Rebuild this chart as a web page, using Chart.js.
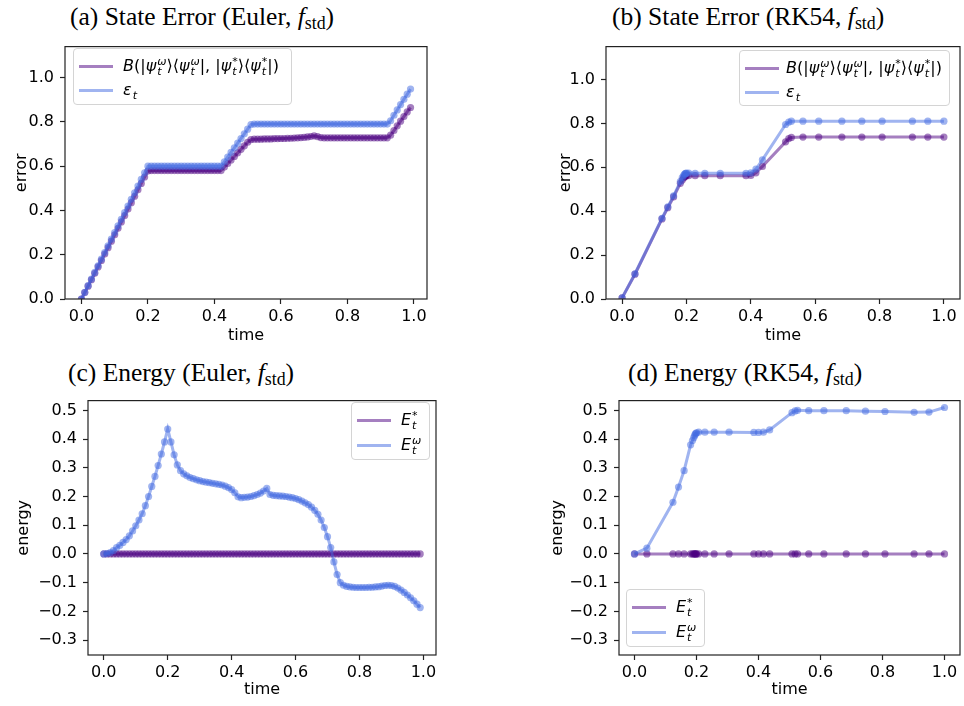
<!DOCTYPE html>
<html>
<head>
<meta charset="utf-8">
<script src="https://cdn.jsdelivr.net/npm/chart.js@4.4.1/dist/chart.umd.min.js"></script>
<style>
  html, body { margin: 0; padding: 0; background: #fff; }
  body { width: 964px; height: 706px; position: relative; overflow: hidden; }
  canvas { position: absolute; }
  .title { position: absolute; font-family: "Liberation Serif", "Times New Roman", serif; font-size: 25.5px; line-height: 1; white-space: nowrap; color: #000; }
  .title sub { font-size: 70%; vertical-align: -0.25em; line-height: 0; }
  .legend { position: absolute; border: 1px solid #d4d4d4; border-radius: 4px; background: rgba(255,255,255,0.8); font-family: "DejaVu Sans"; font-size: 16px; color: #000; box-sizing: border-box; }
  .swatch { position: absolute; height: 3px; }
  .lbl { position: absolute; white-space: nowrap; line-height: 24px; }
  .ss { display: inline-flex; flex-direction: column; font-size: 11px; line-height: 10px; vertical-align: 6px; margin-left: 1px; }
  .ss > * { display: block; }
  .sub { font-size: 11px; vertical-align: -4px; margin-left: 1px; }
</style>
</head>
<body>
<div class="title" style="left:70px;top:4px">(a) State Error (Euler, <i>f</i><sub>std</sub>)</div>
<div class="title" style="left:612px;top:4px">(b) State Error (RK54, <i>f</i><sub>std</sub>)</div>
<div class="title" style="left:68px;top:360px">(c) Energy (Euler, <i>f</i><sub>std</sub>)</div>
<div class="title" style="left:628px;top:360px">(d) Energy (RK54, <i>f</i><sub>std</sub>)</div>

<canvas id="chartA"></canvas>
<canvas id="chartB"></canvas>
<canvas id="chartC"></canvas>
<canvas id="chartD"></canvas>

<script>
// time grids
const tEuler = [
  0.00, 0.01, 0.02, 0.03, 0.04, 0.05, 0.06, 0.07, 0.08, 0.09,
  0.10, 0.11, 0.12, 0.13, 0.14, 0.15, 0.16, 0.17, 0.18, 0.19,
  0.20, 0.21, 0.22, 0.23, 0.24, 0.25, 0.26, 0.27, 0.28, 0.29,
  0.30, 0.31, 0.32, 0.33, 0.34, 0.35, 0.36, 0.37, 0.38, 0.39,
  0.40, 0.41, 0.42, 0.43, 0.44, 0.45, 0.46, 0.47, 0.48, 0.49,
  0.50, 0.51, 0.52, 0.53, 0.54, 0.55, 0.56, 0.57, 0.58, 0.59,
  0.60, 0.61, 0.62, 0.63, 0.64, 0.65, 0.66, 0.67, 0.68, 0.69,
  0.70, 0.71, 0.72, 0.73, 0.74, 0.75, 0.76, 0.77, 0.78, 0.79,
  0.80, 0.81, 0.82, 0.83, 0.84, 0.85, 0.86, 0.87, 0.88, 0.89,
  0.90, 0.91, 0.92, 0.93, 0.94, 0.95, 0.96, 0.97, 0.98, 0.99
];
const tRK = [0, 0.04, 0.124, 0.142, 0.16, 0.181, 0.187, 0.191, 0.194, 0.196, 0.198,
  0.2, 0.207, 0.227, 0.257, 0.305, 0.385, 0.4, 0.416, 0.436, 0.508, 0.518, 0.526,
  0.562, 0.611, 0.683, 0.745, 0.808, 0.902, 0.95, 1.0];

// (a) state error, Euler
const errBEuler = [
  0, 0.029, 0.058, 0.087, 0.116, 0.145, 0.174, 0.203, 0.232, 0.261,
  0.29, 0.319, 0.348, 0.377, 0.406, 0.435, 0.464, 0.493, 0.522, 0.551,
  0.578, 0.58, 0.58, 0.58, 0.58, 0.58, 0.58, 0.58, 0.58, 0.58,
  0.58, 0.58, 0.58, 0.58, 0.58, 0.58, 0.58, 0.58, 0.58, 0.58,
  0.58, 0.58, 0.58, 0.596, 0.612, 0.628, 0.644, 0.66, 0.676, 0.692,
  0.708, 0.72, 0.722, 0.722, 0.722, 0.723, 0.723, 0.723, 0.724, 0.724,
  0.725, 0.725, 0.726, 0.726, 0.727, 0.728, 0.729, 0.73, 0.732, 0.734,
  0.737, 0.733, 0.729, 0.728, 0.728, 0.728, 0.728, 0.728, 0.728, 0.728,
  0.728, 0.728, 0.728, 0.728, 0.728, 0.728, 0.728, 0.728, 0.728, 0.728,
  0.728, 0.728, 0.728, 0.74, 0.761, 0.782, 0.803, 0.824, 0.845, 0.865
];
const errEpsEuler = [
  0, 0.03, 0.06, 0.09, 0.12, 0.15, 0.18, 0.21, 0.24, 0.27,
  0.30, 0.33, 0.36, 0.39, 0.42, 0.45, 0.48, 0.51, 0.54, 0.57,
  0.60, 0.6, 0.6, 0.6, 0.6, 0.6, 0.6, 0.6, 0.6, 0.6,
  0.6, 0.6, 0.6, 0.6, 0.6, 0.6, 0.6, 0.6, 0.6, 0.6,
  0.6, 0.6, 0.6, 0.62, 0.641, 0.662, 0.683, 0.704, 0.725, 0.746,
  0.767, 0.788, 0.79, 0.79, 0.79, 0.79, 0.79, 0.79, 0.79, 0.79,
  0.79, 0.79, 0.79, 0.79, 0.79, 0.79, 0.79, 0.79, 0.79, 0.79,
  0.79, 0.79, 0.79, 0.79, 0.79, 0.79, 0.79, 0.79, 0.79, 0.79,
  0.79, 0.79, 0.79, 0.79, 0.79, 0.79, 0.79, 0.79, 0.79, 0.79,
  0.79, 0.79, 0.79, 0.805, 0.83, 0.854, 0.878, 0.902, 0.925, 0.948
];

// (b) state error, RK54
const errBRK = [0.005, 0.113, 0.365, 0.416, 0.465, 0.527, 0.542, 0.551, 0.556, 0.559, 0.561,
  0.562, 0.562, 0.562, 0.562, 0.562, 0.562, 0.563, 0.575, 0.604, 0.716, 0.731, 0.736,
  0.738, 0.738, 0.738, 0.738, 0.738, 0.738, 0.738, 0.738];
const errEpsRK = [0.005, 0.115, 0.368, 0.42, 0.47, 0.535, 0.553, 0.562, 0.568, 0.571, 0.573,
  0.574, 0.574, 0.573, 0.573, 0.573, 0.573, 0.575, 0.592, 0.634, 0.795, 0.806, 0.81,
  0.81, 0.81, 0.81, 0.81, 0.81, 0.81, 0.81, 0.81];

// (c) energy, Euler
const energyStarEuler = [
  0, 0, 0, 0, 0, 0, 0, 0, 0, 0,
  0, 0, 0, 0, 0, 0, 0, 0, 0, 0,
  0, 0, 0, 0, 0, 0, 0, 0, 0, 0,
  0, 0, 0, 0, 0, 0, 0, 0, 0, 0,
  0, 0, 0, 0, 0, 0, 0, 0, 0, 0,
  0, 0, 0, 0, 0, 0, 0, 0, 0, 0,
  0, 0, 0, 0, 0, 0, 0, 0, 0, 0,
  0, 0, 0, 0, 0, 0, 0, 0, 0, 0,
  0, 0, 0, 0, 0, 0, 0, 0, 0, 0,
  0, 0, 0, 0, 0, 0, 0, 0, 0, 0
];
const energyOmegaEuler = [
  0, 0.001, 0.005, 0.012, 0.022, 0.03, 0.04, 0.05, 0.063, 0.08,
  0.098, 0.118, 0.14, 0.168, 0.2, 0.235, 0.27, 0.308, 0.348, 0.39,
  0.435, 0.39, 0.345, 0.31, 0.29, 0.279, 0.272, 0.266, 0.262, 0.258,
  0.255, 0.252, 0.25, 0.248, 0.246, 0.244, 0.242, 0.24, 0.236, 0.231,
  0.224, 0.213, 0.199, 0.196, 0.197, 0.198, 0.2, 0.203, 0.207, 0.212,
  0.219, 0.228, 0.207, 0.204, 0.203, 0.202, 0.201, 0.2, 0.198, 0.196,
  0.193, 0.189, 0.184, 0.178, 0.172, 0.163, 0.152, 0.138, 0.118, 0.092,
  0.06, 0.022, -0.028, -0.072, -0.1, -0.109, -0.113, -0.115, -0.116, -0.117,
  -0.117, -0.117, -0.117, -0.116, -0.116, -0.115, -0.114, -0.112, -0.11, -0.109,
  -0.11, -0.113, -0.119, -0.126, -0.134, -0.143, -0.153, -0.163, -0.175, -0.187
];

// (d) energy, RK54
const energyStarRK = [0, 0, 0, 0, 0, 0, 0, 0, 0, 0, 0, 0, 0, 0, 0, 0,
  0, 0, 0, 0, 0, 0, 0, 0, 0, 0, 0, 0, 0, 0, 0];
const energyOmegaRK = [0, 0.02, 0.18, 0.233, 0.29, 0.38, 0.395, 0.405, 0.412, 0.417, 0.42,
  0.422, 0.424, 0.424, 0.424, 0.424, 0.423, 0.423, 0.424, 0.432, 0.492, 0.498, 0.5,
  0.499, 0.499, 0.499, 0.497, 0.496, 0.493, 0.494, 0.51];

// ticks
const timeTicks = [0, 0.2, 0.4, 0.6, 0.8, 1.0];
const errorTicks = [0, 0.2, 0.4, 0.6, 0.8, 1.0];
const energyTicks = [-0.3, -0.2, -0.1, 0, 0.1, 0.2, 0.3, 0.4, 0.5];

const PURPLE = 'rgba(75,0,130,0.5)';
const BLUE = 'rgba(65,105,225,0.5)';

const labelB = '<i>B</i>(|<i>ψ</i><span class="ss"><i>ω</i><i>t</i></span>⟩⟨<i>ψ</i><span class="ss"><i>ω</i><i>t</i></span>|, |<i>ψ</i><span class="ss"><span>*</span><i>t</i></span>⟩⟨<i>ψ</i><span class="ss"><span>*</span><i>t</i></span>|)';
const labelEps = '<i>ε</i><i class="sub">t</i>';
const labelEStar = '<i>E</i><span class="ss"><span>*</span><i>t</i></span>';
const labelEOmega = '<i>E</i><span class="ss"><i>ω</i><i>t</i></span>';

Chart.defaults.font.family = 'DejaVu Sans';
const FONT = { family: 'DejaVu Sans', size: 16 };

const fmt = v => (v < -1e-9 ? '\u2212' : '') + Math.abs(v).toFixed(1);

const framePlugin = {
  id: 'frame',
  afterDatasetsDraw(chart) {
    const { ctx, chartArea: a } = chart;
    ctx.save();
    ctx.strokeStyle = '#222';
    ctx.lineWidth = 1.2;
    ctx.strokeRect(a.left, a.top, a.right - a.left, a.bottom - a.top);
    ctx.restore();
  }
};

function drawPanel(p) {
  const cv = document.getElementById(p.id);
  cv.width = p.w; cv.height = p.h;
  cv.style.left = p.left + 'px';
  cv.style.top = p.top + 'px';
  cv.style.width = p.w + 'px';
  cv.style.height = p.h + 'px';

  const n = p.series.length;
  new Chart(cv, {
    type: 'line',
    data: {
      datasets: p.series.map((s, i) => ({
        label: s.name,
        data: s.t.map((x, j) => ({ x: x, y: s.v[j] })),
        borderColor: s.color,
        backgroundColor: s.color,
        pointBackgroundColor: s.color,
        pointBorderWidth: 0,
        pointRadius: 3.6,
        borderWidth: 3,
        tension: 0,
        order: n - 1 - i
      }))
    },
    options: {
      responsive: false,
      animation: false,
      devicePixelRatio: 1,
      layout: { padding: { top: 12, right: p.padRight, bottom: 0, left: 0 } },
      plugins: { legend: { display: false }, tooltip: { enabled: false } },
      scales: {
        x: {
          type: 'linear', min: p.xMin, max: p.xMax,
          afterBuildTicks: ax => { ax.ticks = timeTicks.map(v => ({ value: v })); },
          afterFit: ax => { ax.height = p.xAxisH; },
          ticks: { font: FONT, color: '#000', padding: 3, maxRotation: 0, autoSkip: false, callback: v => fmt(v) },
          grid: { drawOnChartArea: false, drawTicks: true, tickLength: 5, tickColor: '#222', tickWidth: 1.2 },
          border: { display: false },
          title: { display: true, text: 'time', font: FONT, color: '#000', padding: { top: 0, bottom: p.xTitlePad } }
        },
        y: {
          type: 'linear', min: p.yMin, max: p.yMax,
          afterBuildTicks: ax => { ax.ticks = p.yTicks.map(v => ({ value: v })); },
          afterFit: ax => { ax.width = p.yAxisW; },
          ticks: { font: FONT, color: '#000', padding: 6, autoSkip: false, callback: v => fmt(v) },
          grid: { drawOnChartArea: false, drawTicks: true, tickLength: 5, tickColor: '#222', tickWidth: 1.2 },
          border: { display: false },
          title: { display: true, text: p.yLabel, font: FONT, color: '#000', padding: { top: p.yTitlePad, bottom: 0 } }
        }
      }
    },
    plugins: [framePlugin]
  });

  // legend box
  const lg = document.createElement('div');
  lg.className = 'legend';
  Object.assign(lg.style, { left: p.legend.left + 'px', top: p.legend.top + 'px', width: p.legend.w + 'px', height: p.legend.h + 'px' });
  p.series.forEach((s, i) => {
    const cy = p.legend.rows[i];
    const sw = document.createElement('div');
    sw.className = 'swatch';
    Object.assign(sw.style, { left: '5px', width: '34px', top: (cy - 1.5) + 'px', background: s.color });
    lg.appendChild(sw);
    const tx = document.createElement('div');
    tx.className = 'lbl';
    Object.assign(tx.style, { left: p.legend.textX + 'px', top: (cy - 12) + 'px' });
    tx.innerHTML = s.name;
    lg.appendChild(tx);
  });
  document.body.appendChild(lg);
}

drawPanel({
  id: 'chartA', left: 0, top: 31, w: 444, h: 316,
  yAxisW: 65, xAxisH: 48, padRight: 17, yTitlePad: 12.4, xTitlePad: 1.4,
  xMin: -0.0495, xMax: 1.0395, yMin: 0, yMax: 1.14, yTicks: errorTicks, yLabel: 'error',
  series: [
    { name: labelB, t: tEuler, v: errBEuler, color: PURPLE },
    { name: labelEps, t: tEuler, v: errEpsEuler, color: BLUE }
  ],
  legend: { left: 73, top: 48, w: 219, h: 57, rows: [17, 41], textX: 49 }
});

drawPanel({
  id: 'chartB', left: 540, top: 31, w: 424, h: 316,
  yAxisW: 66, xAxisH: 48, padRight: 2, yTitlePad: 16.4, xTitlePad: 1.4,
  xMin: -0.05, xMax: 1.05, yMin: 0, yMax: 1.15, yTicks: errorTicks, yLabel: 'error',
  series: [
    { name: labelB, t: tRK, v: errBRK, color: PURPLE },
    { name: labelEps, t: tRK, v: errEpsRK, color: BLUE }
  ],
  legend: { left: 739, top: 50, w: 211, h: 56, rows: [17, 41], textX: 46 }
});

drawPanel({
  id: 'chartC', left: 0, top: 385, w: 450, h: 321,
  yAxisW: 88, xAxisH: 51, padRight: 14, yTitlePad: 14.4, xTitlePad: 6.4,
  xMin: -0.0495, xMax: 1.0395, yMin: -0.352, yMax: 0.534, yTicks: energyTicks, yLabel: 'energy',
  series: [
    { name: labelEStar, t: tEuler, v: energyStarEuler, color: PURPLE },
    { name: labelEOmega, t: tEuler, v: energyOmegaEuler, color: BLUE }
  ],
  legend: { left: 351, top: 402, w: 79, h: 58, rows: [17, 42], textX: 49 }
});

drawPanel({
  id: 'chartD', left: 540, top: 385, w: 424, h: 321,
  yAxisW: 79, xAxisH: 51, padRight: 2, yTitlePad: 8.4, xTitlePad: 6.4,
  xMin: -0.05, xMax: 1.05, yMin: -0.352, yMax: 0.534, yTicks: energyTicks, yLabel: 'energy',
  series: [
    { name: labelEStar, t: tRK, v: energyStarRK, color: PURPLE },
    { name: labelEOmega, t: tRK, v: energyOmegaRK, color: BLUE }
  ],
  legend: { left: 626, top: 589, w: 79, h: 58, rows: [17, 42], textX: 49 }
});
</script>
</body>
</html>
